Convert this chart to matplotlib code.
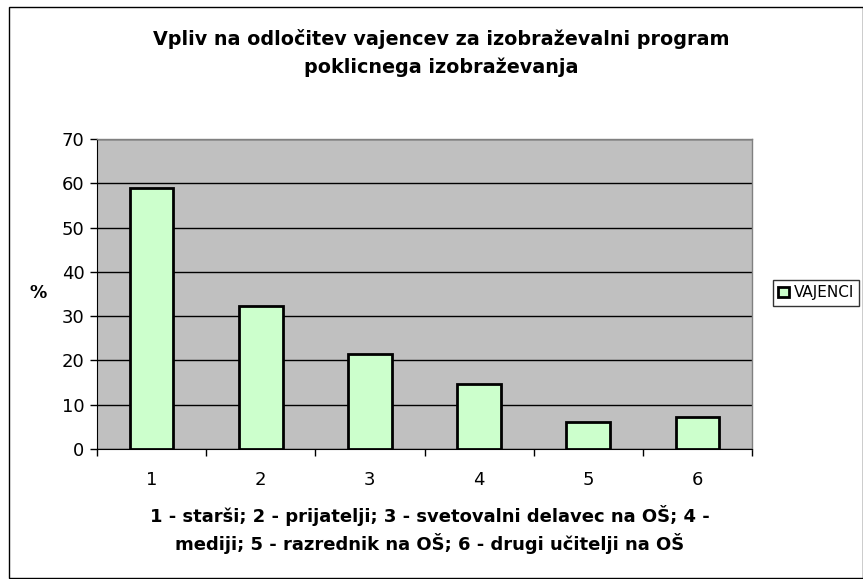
import matplotlib
matplotlib.use("Agg")
import matplotlib.pyplot as plt
from matplotlib.patches import Rectangle

categories = ["1", "2", "3", "4", "5", "6"]
values = [58.9, 32.4, 21.4, 14.6, 6.0, 7.3]
series_name = "VAJENCI"
yticks = [0, 10, 20, 30, 40, 50, 60, 70]

plt.rcParams['font.family'] = ['DejaVu Sans']

fig = plt.figure(figsize=(8.63, 5.79), dpi=100)
W, H = 863, 579
ax = fig.add_axes([97 / W, 1 - 449 / H, (752 - 97) / W, (449 - 139) / H])
ax.set_facecolor("#c0c0c0")

x = list(range(len(categories)))
ax.bar(x, values, width=0.4, color="#ccffcc", edgecolor="black", linewidth=2,
       zorder=3, label=series_name)
ax.set_xlim(-0.5, len(categories) - 0.5)
ax.set_ylim(0, 70)
ax.set_yticks(yticks)
ax.set_yticklabels([str(t) for t in yticks], fontsize=13)
ax.yaxis.grid(True, color="black", linewidth=1, zorder=1)
ax.set_axisbelow(True)
ax.set_xticks([i - 0.5 for i in range(len(categories) + 1)], minor=False)
ax.set_xticklabels([])
ax.set_xticks(x, minor=True)
ax.set_xticklabels(categories, minor=True, fontsize=13)
ax.tick_params(axis='x', which='major', length=5, width=1, direction='out')
ax.tick_params(axis='x', which='minor', length=0, pad=16)
ax.tick_params(axis='y', length=5, width=1, direction='out', pad=4)

for s in ["top", "right"]:
    ax.spines[s].set_color("#808080")
    ax.spines[s].set_linewidth(1)
ax.spines["left"].set_color("black")
ax.spines["bottom"].set_color("black")

ax.set_ylabel("%", fontsize=12.5, fontweight="bold", rotation=0, va="center", ha="center")
ax.yaxis.set_label_coords(-0.09, (449 - 293) / 310)

fig.text(441 / W, 1 - 39 / H, "Vpliv na odločitev vajencev za izobraževalni program",
         ha="center", va="center", fontsize=13.8, fontweight="bold")
fig.text(441 / W, 1 - 67 / H, "poklicnega izobraževanja",
         ha="center", va="center", fontsize=13.8, fontweight="bold")
fig.text(430 / W, 1 - 516 / H, "1 - starši; 2 - prijatelji; 3 - svetovalni delavec na OŠ; 4 -",
         ha="center", va="center", fontsize=13, fontweight="bold")
fig.text(430 / W, 1 - 543 / H, "mediji; 5 - razrednik na OŠ; 6 - drugi učitelji na OŠ",
         ha="center", va="center", fontsize=13, fontweight="bold")

# outer chart border
fig.patches.append(Rectangle((9 / W, 0.002), 1 - 9.5 / W, 1 - 7 / H - 0.002,
                             transform=fig.transFigure, fill=False,
                             edgecolor="black", linewidth=1))

leg = fig.legend(loc="center left", bbox_to_anchor=(773 / W, 1 - 293 / H),
                 frameon=True, fancybox=False, edgecolor="black", fontsize=11,
                 handlelength=0.7, handleheight=0.7, handletextpad=0.3,
                 borderpad=0.35, borderaxespad=0)
leg.get_frame().set_linewidth(1)

fig.savefig("out.png", dpi=100)
